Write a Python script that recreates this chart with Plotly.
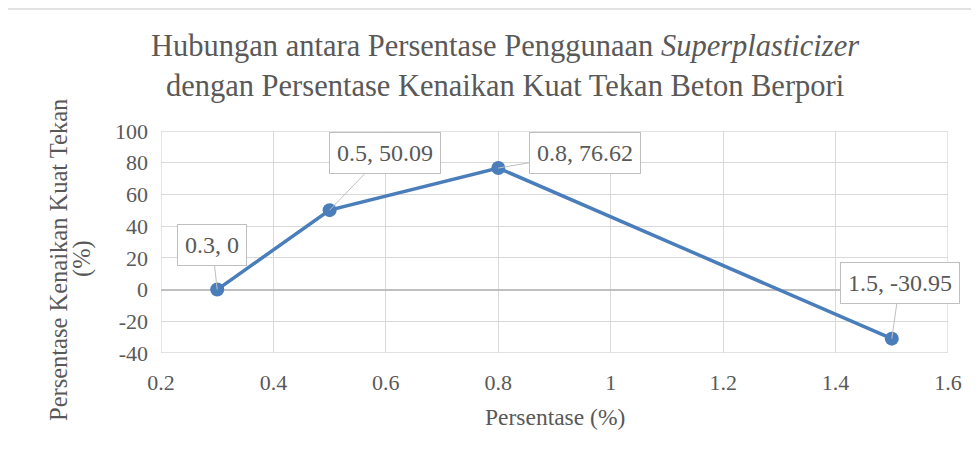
import plotly.graph_objects as go

# Data
persentase = [0.3, 0.5, 0.8, 1.5]
kenaikan = [0, 50.09, 76.62, -30.95]
x_ticks = [0.2, 0.4, 0.6, 0.8, 1.0, 1.2, 1.4, 1.6]
x_tick_labels = ["0.2", "0.4", "0.6", "0.8", "1", "1.2", "1.4", "1.6"]
y_ticks = [-40, -20, 0, 20, 40, 60, 80, 100]
y_tick_labels = ["-40", "-20", "0", "20", "40", "60", "80", "100"]
label_offsets_ax = [-5, 55, 87, 8]
label_offsets_ay = [-45, -57, -15, -56]

OFF = 8  # default page body margin
W, H = 979 - OFF, 457 - OFF
L, R, T, B = 161 - OFF, 31, 131 - OFF, 104
pw, ph = W - L - R, H - T - B

def px_x(p):
    return (p - OFF - L) / pw

def px_y(p):
    return (H - B - (p - OFF)) / ph

FONT = "Liberation Serif"
GRAY = "#595959"
BLUE = "#4A7EBB"

fig = go.Figure()
fig.add_trace(go.Scatter(
    x=persentase, y=kenaikan, mode="lines+markers",
    line=dict(color=BLUE, width=3.5),
    marker=dict(color=BLUE, size=14),
    showlegend=False, hoverinfo="x+y",
))

annotations = []
for xv, yv, ax, ay in zip(persentase, kenaikan, label_offsets_ax, label_offsets_ay):
    annotations.append(dict(
        x=xv, y=yv, xref="x", yref="y",
        text=f"{xv:g}, {yv:g}",
        showarrow=True, arrowhead=0, arrowwidth=1, arrowcolor="#BFBFBF",
        ax=ax, ay=ay,
        bgcolor="white", bordercolor="#BFBFBF", borderwidth=1, borderpad=7,
        font=dict(family=FONT, size=24, color=GRAY),
    ))

# Title
annotations.append(dict(
    text="Hubungan antara Persentase Penggunaan <i>Superplasticizer</i><br>dengan Persentase Kenaikan Kuat Tekan Beton Berpori",
    xref="paper", yref="paper", x=px_x(505), y=px_y(66), xanchor="center", yanchor="middle",
    showarrow=False, font=dict(family=FONT, size=30.5, color=GRAY), align="center",
))
# x-axis title
annotations.append(dict(
    text="Persentase (%)", xref="paper", yref="paper", x=px_x(555), y=px_y(417),
    xanchor="center", yanchor="middle", showarrow=False,
    font=dict(family=FONT, size=23.5, color=GRAY),
))
# y-axis title (two lines)
annotations.append(dict(
    text="Persentase Kenaikan Kuat Tekan", xref="paper", yref="paper",
    x=px_x(58), y=px_y(260), xanchor="center", yanchor="middle", showarrow=False,
    textangle=-90, font=dict(family=FONT, size=24.5, color=GRAY),
))
annotations.append(dict(
    text="(%)", xref="paper", yref="paper",
    x=px_x(82), y=px_y(259), xanchor="center", yanchor="middle", showarrow=False,
    textangle=-90, font=dict(family=FONT, size=24.5, color=GRAY),
))

fig.update_layout(
    width=W, height=H,
    margin=dict(l=L, r=R, t=T, b=B, pad=0),
    paper_bgcolor="white", plot_bgcolor="white",
    font=dict(family=FONT, color=GRAY),
    annotations=annotations,
    shapes=[dict(type="rect", xref="paper", yref="paper",
                 x0=px_x(5), x1=px_x(1010), y0=px_y(9), y1=px_y(480),
                 line=dict(color="#D9D9D9", width=1.5), layer="below")],
)
fig.update_xaxes(
    range=[0.2, 1.6], tickvals=x_ticks, ticktext=x_tick_labels,
    showgrid=True, gridcolor="#D9D9D9", gridwidth=1.3, zeroline=False,
    showline=False, ticks="", ticklabelstandoff=14,
    tickfont=dict(family=FONT, size=22, color=GRAY),
)
fig.update_yaxes(
    range=[-40, 100], tickvals=y_ticks, ticktext=y_tick_labels,
    showgrid=True, gridcolor="#D9D9D9", gridwidth=1.3,
    zeroline=True, zerolinecolor="#BFBFBF", zerolinewidth=1.5,
    showline=False, ticks="", ticklabelstandoff=12,
    tickfont=dict(family=FONT, size=22, color=GRAY),
)
fig.add_shape(type="rect", xref="x", yref="y", x0=0.2, x1=1.6, y0=-40, y1=100,
              line=dict(color="#D9D9D9", width=1.3), layer="below")

fig.write_html("out.html")
